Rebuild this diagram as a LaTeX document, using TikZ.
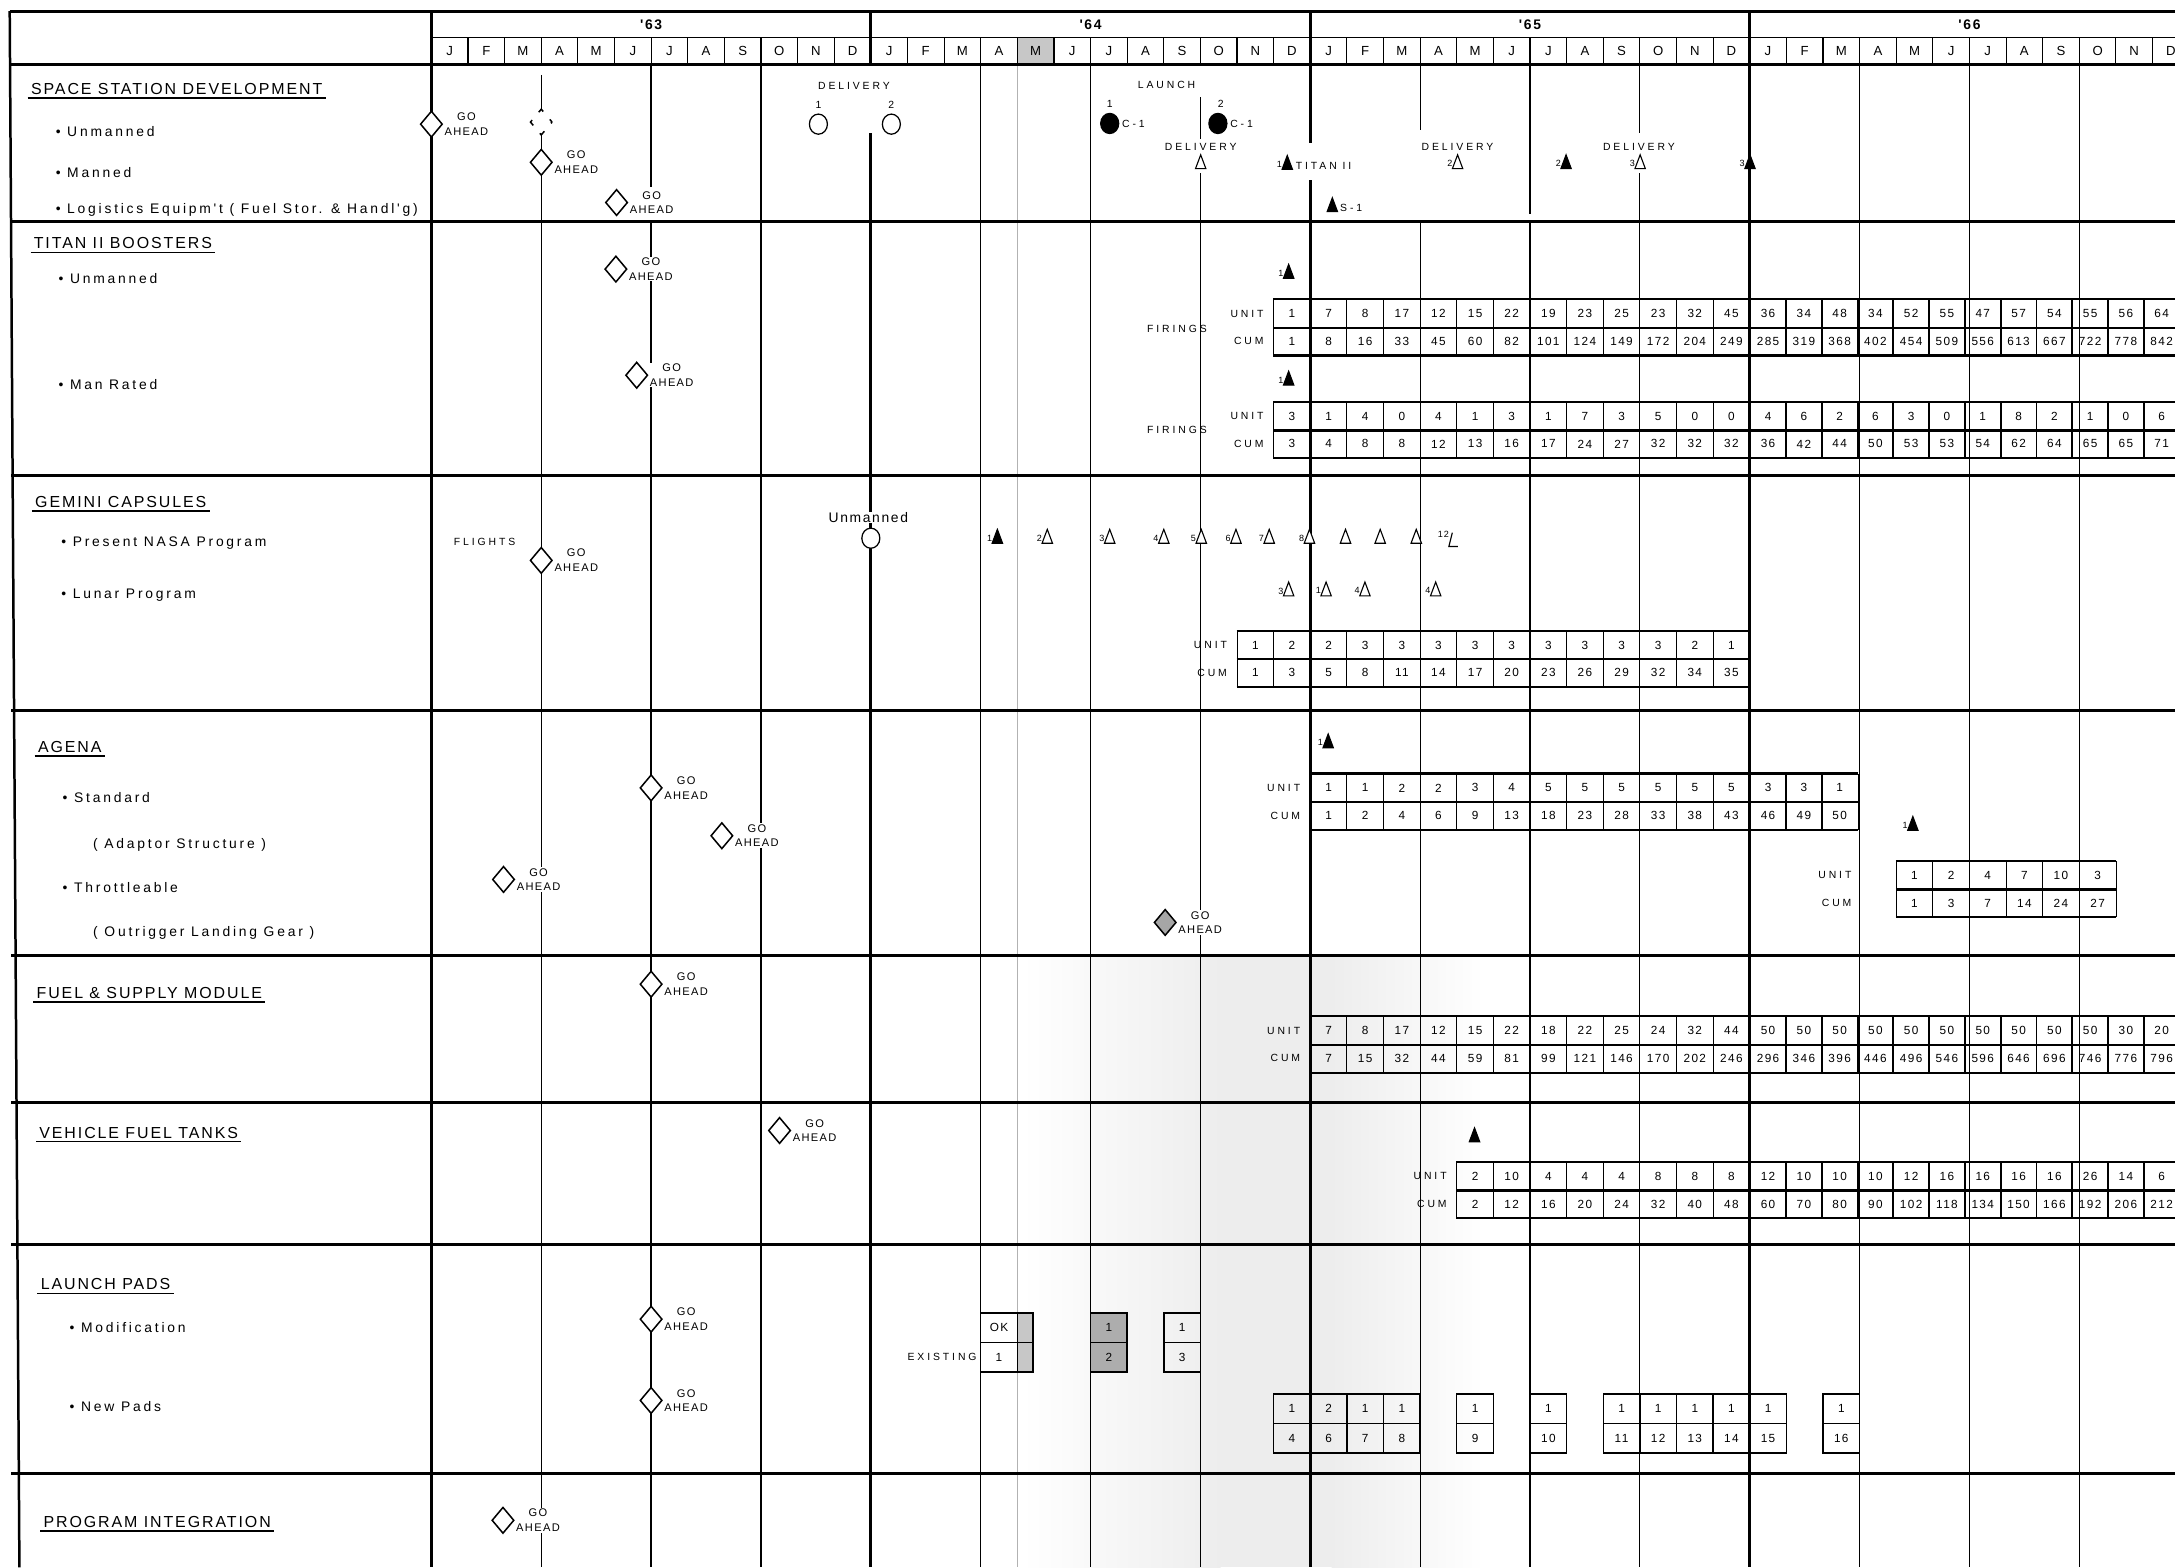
\documentclass[tikz,border=0pt]{standalone}
\usepackage{fontspec}
\setmainfont{Liberation Sans}
\newfontfamily\lettering[LetterSpace=12]{Liberation Sans}
\newfontfamily\itemlet[LetterSpace=20]{Liberation Sans}
\newfontfamily\spaced[LetterSpace=28]{Liberation Sans}
\usetikzlibrary{positioning,shapes.geometric}

\newcommand{\mx}[1]{311+26.4*(#1)}
% cell centre of month #1, drawn a little tighter in '66
\newcommand{\cx}[1]{311+26.4*(#1)+13.2-0.6*max(0,#1-36)}

\begin{document}
\begin{tikzpicture}[
    x=1pt, y=-1pt,
    every node/.style={font=\lettering\fontsize{8}{9.5}\selectfont, inner sep=1pt},
    head/.style={font=\lettering\fontsize{11.5}{13}\selectfont, anchor=west, inner sep=2.2pt},
    item/.style={font=\itemlet\fontsize{10}{12}\selectfont, anchor=west, inner sep=0pt},
    small/.style={font=\spaced\fontsize{7.5}{9}\selectfont, inner sep=0.8pt},
    supnr/.style={font=\lettering\fontsize{6.5}{7.5}\selectfont, inner sep=0.3pt},
    nrtop/.style={font=\lettering\fontsize{7.5}{9}\selectfont, inner sep=0.5pt},
    mon/.style={font=\lettering\fontsize{9.5}{11}\selectfont},
    yr/.style={font=\lettering\bfseries\fontsize{10}{12}\selectfont},
    goal/.style={diamond, draw, line width=1.1, fill=white,
      minimum width=16, minimum height=19, inner sep=0},
    gotxt/.style={font=\lettering\fontsize{8}{10.5}\selectfont,
      align=center, inner sep=0.8, fill=white},
    dlvc/.style={ellipse, draw, line width=0.9, fill=white,
      minimum width=13, minimum height=14.5, inner sep=0},
    lchc/.style={dlvc, fill=black},
    dlvt/.style={isosceles triangle, shape border rotate=90,
      isosceles triangle stretches, minimum width=7.5, minimum height=10,
      inner sep=0, draw, line width=0.8, fill=white},
    lcht/.style={dlvt, fill=black},
    nr/.style={label={[supnr, anchor=north east, xshift=-1pt, yshift=1.5pt]north west:#1}},
    cell/.style={draw, line width=0.6, minimum width=26.4, minimum height=20,
      inner sep=0, font=\lettering\fontsize{8.5}{9.5}\selectfont},
    padcell/.style={cell, line width=1, minimum height=21.3},
    rim/.style={line width=1.6},
    qline/.style={line width=0.9},
    yline/.style={line width=2.2},
    rowline/.style={line width=2.2},
    uline/.style={line width=1.2}
  ]
  \useasboundingbox (0,0) rectangle (1568,1130);
  \clip (0,0) rectangle (1568,1130);

  % scan shading along the fold
  \fill[black!22] ({\mx{16}},27) rectangle ({\mx{17}},46.5);
  \shade[left color=white, right color=black!7] (737,689) rectangle (880,1130);
  \fill[black!7] (880,689) rectangle (960,1130);
  \shade[left color=black!7, right color=white] (960,689) rectangle (1070,1130);
  \draw[black!30, line width=0.7] ({\mx{16}},46.5) -- ({\mx{16}},1130);

  % frame and header
  \draw[rowline] (7,8) -- (1568,8);
  \draw[line width=1.2] ({\mx{0}},27) -- (1568,27);
  \draw[rowline] (7,46.5) -- (1568,46.5);
  \draw[line width=1.8] (7,8) -- (14,1130);
  \draw[yline] (311,8) -- (311,1130);
  \foreach \y/\t in {0/'63,1/'64,2/'65,3/'66}
    \node[yr] (yr\y) at ({\mx{12*\y+6}},18) {\t};
  \foreach \y in {0,...,3}
    \foreach \l [count=\i from 0] in {J,F,M,A,M,J,J,A,S,O,N,D}
      \node[mon] (mo\y-\i) at ({\mx{12*\y+\i}+13.2},36.8) {\l};
  \foreach \m in {1,...,47}
    \draw[line width=0.8] ({\mx{\m}},27) -- ({\mx{\m}},46.5);
  \foreach \m in {12,24,36}
    \draw[yline] ({\mx{\m}},8) -- ({\mx{\m}},46.5);

  % grid in the first band, broken where the labels sit
  \foreach \m/\a/\b in {3/54/160,6/47/135,9/47/160,15/47/160,18/47/160,21/70/100,21/125/160,
      27/47/94,30/47/154,33/47/96,33/125/160,39/47/160,42/47/160,45/47/160}
    \draw[qline] ({\mx{\m}},\a) -- ({\mx{\m}},\b);
  \foreach \m/\a/\b in {12/96/160,24/47/103,24/130/160,36/47/160}
    \draw[yline] ({\mx{\m}},\a) -- ({\mx{\m}},\b);
  % grid below
  \foreach \m in {3,6,9,15,18,21,27,30,33,39,42,45}
    \draw[qline] ({\mx{\m}},160) -- ({\mx{\m}},1130);
  \foreach \m in {12,24,36}
    \draw[yline] ({\mx{\m}},160) -- ({\mx{\m}},1130);
  \foreach \r in {160,343,512,689,795,897,1062}
    \draw[rowline] (8,\r) -- (1568,\r);

  % left column
  \node[head] (ssd) at (20,64) {SPACE STATION DEVELOPMENT};
  \node[item] (ssd1) at (40,95) {\textbullet\ Unmanned};
  \node[item] (ssd2) at (40,124.5) {\textbullet\ Manned};
  \node[item] (ssd3) at (40,151.5) {\textbullet\ Logistics Equipm't ( Fuel Stor. \& Handl'g)};
  \node[head] (tit) at (22,175.5) {TITAN II BOOSTERS};
  \node[item] (tit1) at (42,200.5) {\textbullet\ Unmanned};
  \node[item] (tit2) at (42,277.5) {\textbullet\ Man Rated};
  \node[head] (gem) at (23,362) {GEMINI CAPSULES};
  \node[item] (gem1) at (44,391.5) {\textbullet\ Present NASA Program};
  \node[item] (gem2) at (44,429) {\textbullet\ Lunar Program};
  \node[head] (age) at (25,538.5) {AGENA};
  \node[item] (age1) at (45,575) {\textbullet\ Standard};
  \node[item] (age2) at (67,609) {( Adaptor Structure )};
  \node[item] (age3) at (45,639.5) {\textbullet\ Throttleable};
  \node[item] (age4) at (67,672.7) {( Outrigger Landing Gear )};
  \node[head] (fsm) at (24,716) {FUEL \& SUPPLY MODULE};
  \node[head] (vft) at (26,816.5) {VEHICLE FUEL TANKS};
  \node[head] (pad) at (27,926) {LAUNCH PADS};
  \node[item] (pad1) at (50,957) {\textbullet\ Modification};
  \node[item] (pad2) at (50,1014) {\textbullet\ New Pads};
  \node[head] (pin) at (29,1097) {PROGRAM INTEGRATION};
  \foreach \h in {ssd,tit,gem,age,fsm,vft,pad,pin}
    \draw[uline] (\h.south west) -- (\h.south east);

  % go-ahead points
  \node[goal, dash pattern=on 5 off 7.42, dash phase=2.5] (gad) at ({\mx{3}},88) {};
  \foreach \n/\x/\y/\f in {ga1/311/89.5/white, ga2/390.2/117/white, ga3/444.5/146/white,
      ga4/444/194/white, ga5/459/270.5/white, ga6/390.2/404/white,
      ga7/469.4/568/white, ga8/520.4/602.5/white, ga9/363/634/white,
      ga10/840/665/black!35, ga11/469.4/709.5/white, ga12/562/815/white,
      ga13/469.4/951/white, ga14/469.4/1009.6/white, ga15/362.6/1096/white}
  {
    \node[goal, fill=\f] (\n) at (\x,\y) {};
    \node[gotxt, right=0pt of \n] (\n-t) {GO\\AHEAD};
  }

  % space station deliveries and launches
  \node[small] (dl1) at (615.6,62) {DELIVERY};
  \node[dlvc] (dc1) at (590,89.5) {};
  \node[dlvc] (dc2) at (642.6,89.5) {};
  \node[nrtop, above=3pt of dc1] (dc1n) {1};
  \node[nrtop, above=3pt of dc2] (dc2n) {2};
  \node[small] (lch) at (841,61) {LAUNCH};
  \node[lchc] (lc1) at (800,89) {};
  \node[lchc] (lc2) at (878,89) {};
  \node[nrtop, above=3pt of lc1] (lc1n) {1};
  \node[nrtop, above=3pt of lc2, xshift=2pt] (lc2n) {2};
  \node[small, right=1pt of lc1] (lc1t) {C-1};
  \node[small, right=1pt of lc2] (lc2t) {C-1};
  \node[small] (dl2) at (865.6,106) {DELIVERY};
  \node[dlvt] (dt1) at (865.6,119) {};
  \node[lcht, nr=1] (lt1) at (928,119.5) {};
  \node[small, right=2pt of lt1] (lt1t) {TITAN II};
  \node[lcht] (ls1) at (960.5,150) {};
  \node[small, right=1.5pt of ls1] (ls1t) {S-1};
  \node[small] (dl3) at (1050.7,106) {DELIVERY};
  \node[dlvt, nr=2] (dt2) at (1050.8,119) {};
  \node[lcht, nr=2] (lt2) at (1129,119) {};
  \node[small] (dl4) at (1181.5,106) {DELIVERY};
  \node[dlvt, nr=3] (dt3) at (1182.4,119) {};
  \node[lcht, nr=3] (lt3) at (1261.6,119) {};

  % titan II firings
  \node[lcht, nr=1] (tt1) at (929,198) {};
  \node[lcht, nr=1] (tt2) at (929,275) {};
  \foreach \u/\c [count=\i from 0] in {1/1,7/8,8/16,17/33,12/45,15/60,22/82,19/101,23/124,
      25/149,23/172,32/204,45/249,36/285,34/319,48/368,34/402,52/454,55/509,47/556,
      57/613,54/667,55/722,56/778,64/842}
  {
    \node[cell] (fu\i) at ({\cx{23+\i}},226) {\u};
    \node[cell] (fc\i) at ({\cx{23+\i}},246) {\c};
  }
  \draw[rim] (fu0.north west) -- (fu24.north east);
  \draw[rim] (fu0.south west) -- (fu24.south east);
  \draw[rim] (fc0.south west) -- (fc24.south east);
  \node[small, left=6pt of fu0] (fuL) {UNIT};
  \node[small, left=6pt of fc0] (fcL) {CUM};
  \node[small, anchor=east] (fir1) at (871,237) {FIRINGS};
  \foreach \u/\c [count=\i from 0] in {3/3,1/4,4/8,0/8,4/12,1/13,3/16,1/17,7/24,3/27,5/32,
      0/32,0/32,4/36,6/42,2/44,6/50,3/53,0/53,1/54,8/62,2/64,1/65,0/65,6/71}
  {
    \node[cell] (mu\i) at ({\cx{23+\i}},300) {\u};
    \node[cell] (mc\i) at ({\cx{23+\i}},320) {\c};
  }
  \draw[rim] (mu0.north west) -- (mu24.north east);
  \draw[rim] (mu0.south west) -- (mu24.south east);
  \draw[rim] (mc0.south west) -- (mc24.south east);
  \node[small, left=6pt of mu0] (muL) {UNIT};
  \node[small, left=6pt of mc0] (mcL) {CUM};
  \node[small, anchor=east] (fir2) at (871,310) {FIRINGS};

  % gemini flights
  \node[small] (flt) at (349.4,390.6) {FLIGHTS};
  \node[font=\lettering\fontsize{10}{12}\selectfont, fill=white, inner sep=0.5pt] (gumt) at (626,373) {Unmanned};
  \node[dlvc] (gum) at ({\mx{12}},388) {};
  \foreach \x/\k/\f in {719/1/black,755/2/white,800/3/white,839/4/white,866/5/white,
      891/6/white,915/7/white,944/8/white,970//white,995//white,1021//white}
    \node[dlvt, fill=\f, nr=\k] (gf\x) at (\x,389) {};
  \coordinate (gf12) at (1048,389);
  \node[supnr, anchor=north east] (gf12n) at (1045,382.5) {12};
  \draw[line width=0.8] (gf12) ++(-1,-5) -- ++(-2.5,10) -- ++(6.5,0);
  \foreach \x/\k in {929/3,956/1,984/4,1035/4}
    \node[dlvt, nr=\k] (gl\x) at (\x,427) {};
  \foreach \u/\c [count=\i from 0] in {1/1,2/3,2/5,3/8,3/11,3/14,3/17,3/20,3/23,3/26,3/29,
      3/32,2/34,1/35}
  {
    \node[cell] (gu\i) at ({\cx{22+\i}},465) {\u};
    \node[cell] (gc\i) at ({\cx{22+\i}},485) {\c};
  }
  \draw[rim] (gu0.north west) -- (gu13.north east);
  \draw[rim] (gu0.south west) -- (gu13.south east);
  \draw[rim] (gc0.south west) -- (gc13.south east);
  \node[small, left=6pt of gu0] (guL) {UNIT};
  \node[small, left=6pt of gc0] (gcL) {CUM};

  % agena
  \node[lcht, nr=1] (at1) at (957.5,536.5) {};
  \foreach \u/\c [count=\i from 0] in {1/1,1/2,2/4,2/6,3/9,4/13,5/18,5/23,5/28,5/33,5/38,
      5/43,3/46,3/49,1/50}
  {
    \node[cell] (su\i) at ({\cx{24+\i}},568) {\u};
    \node[cell] (sc\i) at ({\cx{24+\i}},588) {\c};
  }
  \draw[rim] (su0.north west) -- (su14.north east);
  \draw[rim] (su0.south west) -- (su14.south east);
  \draw[rim] (sc0.south west) -- (sc14.south east);
  \node[small, left=6pt of su0] (suL) {UNIT};
  \node[small, left=6pt of sc0] (scL) {CUM};
  \node[lcht, nr=1] (at2) at (1379,596) {};
  \foreach \u/\c [count=\i from 0] in {1/1,2/3,4/7,7/14,10/24,3/27}
  {
    \node[cell] (ru\i) at ({\mx{40+\i}+13.2},631) {\u};
    \node[cell] (rc\i) at ({\mx{40+\i}+13.2},651) {\c};
  }
  \draw[rim] (ru0.north west) -- (ru5.north east);
  \draw[rim] (ru0.south west) -- (ru5.south east);
  \draw[rim] (rc0.south west) -- (rc5.south east);
  \node[small, left=31pt of ru0] (ruL) {UNIT};
  \node[small, left=31pt of rc0] (rcL) {CUM};

  % fuel and supply module
  \foreach \u/\c [count=\i from 0] in {7/7,8/15,17/32,12/44,15/59,22/81,18/99,22/121,25/146,
      24/170,32/202,44/246,50/296,50/346,50/396,50/446,50/496,50/546,50/596,50/646,
      50/696,50/746,30/776,20/796}
  {
    \node[cell] (pu\i) at ({\cx{24+\i}},743) {\u};
    \node[cell] (pc\i) at ({\cx{24+\i}},763) {\c};
  }
  \draw[rim] (pu0.north west) -- (pu23.north east);
  \draw[rim] (pu0.south west) -- (pu23.south east);
  \draw[rim] (pc0.south west) -- (pc23.south east);
  \node[small, left=6pt of pu0] (puL) {UNIT};
  \node[small, left=6pt of pc0] (pcL) {CUM};

  % vehicle fuel tanks
  \node[lcht] (vt1) at (1063,820.5) {};
  \foreach \u/\c [count=\i from 0] in {2/2,10/12,4/16,4/20,4/24,8/32,8/40,8/48,12/60,10/70,
      10/80,10/90,12/102,16/118,16/134,16/150,16/166,26/192,14/206,6/212}
  {
    \node[cell] (vu\i) at ({\cx{28+\i}},848) {\u};
    \node[cell] (vc\i) at ({\cx{28+\i}},868) {\c};
  }
  \draw[rim] (vu0.north west) -- (vu19.north east);
  \draw[rim] (vu0.south west) -- (vu19.south east);
  \draw[rim] (vc0.south west) -- (vc19.south east);
  \node[small, left=6pt of vu0] (vuL) {UNIT};
  \node[small, left=6pt of vc0] (vcL) {CUM};

  % launch pads
  \node[small, anchor=east] (exl) at (705,978.5) {EXISTING};
  \node[padcell] (ex1) at ({\mx{15}+13.2},957.2) {OK};
  \node[padcell] (ex2) at ({\mx{15}+13.2},978.5) {1};
  \node[padcell, fill=black!22, minimum width=11.4] (exg1) at ({\mx{16}+5.7},957.2) {};
  \node[padcell, fill=black!22, minimum width=11.4] (exg2) at ({\mx{16}+5.7},978.5) {};
  \node[padcell, fill=black!32] (mg1) at ({\mx{18}+13.2},957.2) {1};
  \node[padcell, fill=black!32] (mg2) at ({\mx{18}+13.2},978.5) {2};
  \node[padcell] (mw1) at ({\mx{20}+13.2},957.2) {1};
  \node[padcell] (mw2) at ({\mx{20}+13.2},978.5) {3};
  \foreach \m/\t/\b in {23/1/4,24/2/6,25/1/7,26/1/8,28/1/9,30/1/10,32/1/11,33/1/12,
      34/1/13,35/1/14,36/1/15,38/1/16}
  {
    \node[padcell] (np\b) at ({\mx{\m}+13.2},1015.5) {\t};
    \node[padcell] (nq\b) at ({\mx{\m}+13.2},1036.8) {\b};
  }
\end{tikzpicture}
\end{document}
